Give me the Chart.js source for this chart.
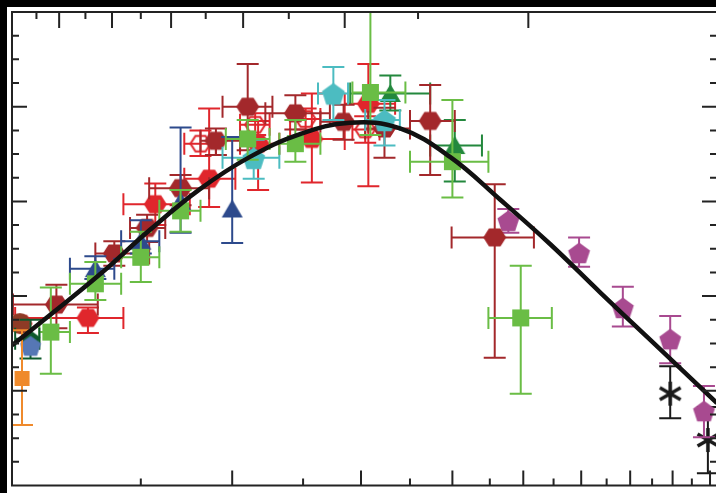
<!DOCTYPE html>
<html>
<head>
<meta charset="utf-8">
<script src="https://cdn.jsdelivr.net/npm/chart.js@4.4.1/dist/chart.umd.min.js"></script>
<style>
html, body { margin:0; padding:0; background:#fff; overflow:hidden; }
#wrap { position:relative; width:716px; height:493px; overflow:hidden; }
#chart { position:absolute; left:0; top:0; width:720px; height:493px; }
.bar { position:absolute; background:#000; }
</style>
</head>
<body>
<div id="wrap">
  <canvas id="chart" width="720" height="493"></canvas>
  <div class="bar" style="left:0;top:0;width:716px;height:7px"></div>
  <div class="bar" style="left:0;top:0;width:7px;height:493px"></div>
</div>
<script>
const d = document;

// fitted curve
const curveX = [1.0, 1.127, 1.319, 1.544, 1.807, 2.115, 2.476, 2.898, 3.392, 3.970, 4.647, 5.439, 6.367, 7.451, 9.2];
const curveY = [1.48, 1.80, 2.23, 2.70, 3.13, 3.47, 3.71, 3.83, 3.77, 3.47, 3.02, 2.55, 2.04, 1.54, 0.87];

// points: [x, y, xLow, xHigh, yLow, yHigh]
const redHex = [
  [1.27, 1.77, 1.01, 1.42, 1.61, 1.88],
  [1.57, 2.97, 1.42, 1.75, 2.75, 3.19],
  [1.86, 3.24, 1.72, 2.02, 2.94, 3.98],
  [2.17, 3.61, 2.05, 2.32, 3.12, 3.85],
  [2.57, 3.66, 2.40, 2.85, 3.20, 4.14],
  [3.07, 4.03, 2.85, 3.34, 3.16, 4.45]
];
const redOpen = [
  [1.03, 1.71, null, null, null, null],
  [1.81, 3.61, 1.72, 1.90, 3.48, 3.75],
  [2.15, 3.81, 2.05, 2.25, 3.70, 3.93],
  [2.52, 3.87, 2.40, 2.64, 3.76, 3.98],
  [3.04, 3.76, 2.92, 3.18, 3.62, 3.90]
];
const darkRedHex = [
  [1.15, 1.91, 1.003, 1.31, 1.66, 2.12],
  [1.38, 2.45, 1.30, 1.54, 2.32, 2.58],
  [1.53, 2.72, 1.45, 1.62, 2.57, 2.86],
  [1.70, 3.14, 1.54, 1.86, 2.96, 3.28],
  [1.90, 3.64, 1.81, 2.05, 3.49, 3.77],
  [2.10, 4.00, 1.94, 2.27, 3.54, 4.45],
  [2.44, 3.93, 2.22, 2.72, 3.76, 4.12],
  [2.84, 3.84, 2.64, 3.07, 3.65, 4.02],
  [3.23, 3.77, 3.04, 3.50, 3.46, 3.99],
  [3.73, 3.85, 3.50, 4.03, 3.28, 4.23],
  [4.57, 2.62, 3.99, 5.17, 1.35, 3.18]
];
const brownCircle = [[1.025, 1.71, null, null, null, null]];
const greenSq = [
  [1.13, 1.62, 1.09, 1.20, 1.18, 2.09],
  [1.30, 2.13, 1.20, 1.41, 1.96, 2.36],
  [1.50, 2.41, 1.41, 1.59, 2.15, 2.68],
  [1.70, 2.90, 1.59, 1.81, 2.68, 3.12],
  [2.10, 3.66, 1.96, 2.25, 3.44, 3.86],
  [2.44, 3.61, 2.32, 2.64, 3.42, 3.86],
  [3.09, 4.15, 2.92, 3.45, 3.70, 5.30],
  [4.00, 3.42, 3.50, 4.48, 3.04, 4.07],
  [4.96, 1.77, 4.48, 5.47, 0.97, 2.32]
];
const darkGreenTri = [
  [3.29, 4.14, 2.90, 3.73, 3.96, 4.33],
  [4.03, 3.59, 3.73, 4.39, 3.21, 3.86]
];
const darkGreenPent = [[1.06, 1.55, 1.01, 1.09, 1.34, 1.75]];
const navyTri = [
  [1.30, 2.29, 1.20, 1.38, 2.18, 2.42],
  [1.50, 2.58, 1.41, 1.59, 2.45, 2.80],
  [1.70, 3.00, null, null, 2.67, 3.78],
  [2.00, 2.92, null, null, 2.56, 3.68]
];
const bluePent = [[1.06, 1.48, null, null, null, null]];
const cyanPent = [
  [2.14, 3.46, 1.94, 2.32, 3.24, 3.65],
  [2.75, 4.14, 2.62, 2.88, 3.86, 4.42],
  [3.23, 3.86, 3.04, 3.39, 3.59, 4.07]
];
const purplePent = [
  [4.77, 2.80, null, null, 2.67, 2.92],
  [5.96, 2.46, null, null, 2.31, 2.62],
  [6.84, 1.88, null, null, 1.68, 2.10],
  [7.94, 1.55, null, null, 1.29, 1.79],
  [8.83, 0.79, null, null, 0.51, 1.05]
];
const blackStar = [
  [7.94, 0.97, null, null, 0.71, 1.26],
  [8.94, 0.48, null, null, 0.13, 0.83]
];
const orangeSq = [[1.032, 1.13, null, null, 0.64, 1.64]];

// axis ticks (no labels in the figure)
const bottomTicks = [1.5, 2, 2.5, 3, 3.5, 4, 4.5, 5, 5.5, 6, 6.5, 7, 7.5, 8, 8.5, 9];
const topTicks = [1.08, 1.16, 1.26, 1.37, 1.50, 1.65, 1.84, 2.07, 2.39, 2.85, 3.59, 5.08];

function marker(shape, color, size, open) {
  const c = d.createElement('canvas');
  c.width = c.height = size + 6;
  const g = c.getContext('2d');
  const m = c.width / 2, r = size / 2;
  g.fillStyle = color;
  g.strokeStyle = color;
  g.lineWidth = 2;
  g.beginPath();
  if (shape === 'hex') {
    for (let i = 0; i < 6; i++) {
      const a = i * Math.PI / 3;
      g.lineTo(m + r * Math.cos(a), m + r * 0.9 * Math.sin(a));
    }
  } else if (shape === 'pent') {
    for (let i = 0; i < 5; i++) {
      const a = -Math.PI / 2 + i * 2 * Math.PI / 5;
      g.lineTo(m + r * Math.cos(a), m + 1.5 + r * Math.sin(a));
    }
  } else if (shape === 'tri') {
    g.moveTo(m, m - r * 0.9);
    g.lineTo(m + r, m + r * 0.8);
    g.lineTo(m - r, m + r * 0.8);
  } else if (shape === 'sq') {
    g.rect(m - r, m - r, size, size);
  } else if (shape === 'circle') {
    g.arc(m, m, r, 0, 2 * Math.PI);
  } else if (shape === 'star') {
    for (let i = 0; i < 3; i++) {
      const a = Math.PI / 2 + i * Math.PI / 3;
      g.moveTo(m + r * Math.cos(a), m + r * Math.sin(a));
      g.lineTo(m - r * Math.cos(a), m - r * Math.sin(a));
    }
    g.lineWidth = 3.5;
    g.stroke();
    return c;
  }
  g.closePath();
  open ? g.stroke() : g.fill();
  return c;
}

function series(rows, color, style) {
  return {
    data: rows.map(r => ({x: r[0], y: r[1], xLo: r[2], xHi: r[3], yLo: r[4], yHi: r[5]})),
    pointStyle: style,
    pointRadius: 10,
    pointHoverRadius: 10,
    errColor: color,
    order: 1
  };
}

const errorBars = {
  id: 'errorBars',
  beforeDatasetDraw(chart, args) {
    const ds = chart.data.datasets[args.index];
    if (!ds.errColor) return;
    const {ctx, chartArea: a, scales: {x, y}} = chart;
    const cap = 11;
    ctx.save();
    ctx.beginPath();
    ctx.rect(a.left, a.top, a.right - a.left, a.bottom - a.top);
    ctx.clip();
    ctx.strokeStyle = ds.errColor;
    ctx.lineWidth = 2;
    ds.data.forEach(p => {
      const px = x.getPixelForValue(p.x), py = y.getPixelForValue(p.y);
      ctx.beginPath();
      if (p.yLo != null) {
        const y0 = y.getPixelForValue(p.yLo), y1 = y.getPixelForValue(p.yHi);
        ctx.moveTo(px, y0); ctx.lineTo(px, y1);
        ctx.moveTo(px - cap, y0); ctx.lineTo(px + cap, y0);
        ctx.moveTo(px - cap, y1); ctx.lineTo(px + cap, y1);
      }
      if (p.xLo != null) {
        const x0 = x.getPixelForValue(p.xLo), x1 = x.getPixelForValue(p.xHi);
        ctx.moveTo(x0, py); ctx.lineTo(x1, py);
        ctx.moveTo(x0, py - cap); ctx.lineTo(x0, py + cap);
        ctx.moveTo(x1, py - cap); ctx.lineTo(x1, py + cap);
      }
      ctx.stroke();
    });
    ctx.restore();
  }
};

const frame = {
  id: 'frame',
  afterDraw(chart) {
    const {ctx, chartArea: a, scales: {x, y}} = chart;
    ctx.save();
    ctx.strokeStyle = '#232323';
    ctx.lineWidth = 2;
    ctx.strokeRect(a.left, a.top, a.right - a.left, a.bottom - a.top);
    ctx.beginPath();
    for (let v = 0.25; v < 5; v += 0.25) {
      const len = v % 1 === 0 ? 15 : 7;
      const py = y.getPixelForValue(v);
      ctx.moveTo(a.left, py); ctx.lineTo(a.left + len, py);
      ctx.moveTo(a.right, py); ctx.lineTo(a.right - len, py);
    }
    bottomTicks.forEach(v => {
      const len = Number.isInteger(v) ? 15 : 7;
      const px = x.getPixelForValue(v);
      ctx.moveTo(px, a.bottom); ctx.lineTo(px, a.bottom - len);
    });
    topTicks.forEach((v, i) => {
      const len = i % 2 ? 16 : 7;
      const px = x.getPixelForValue(v);
      ctx.moveTo(px, a.top); ctx.lineTo(px, a.top + len);
    });
    ctx.stroke();
    ctx.restore();
  }
};

const red = '#e0262c', darkRed = '#a3282b', green = '#6abd45', dGreen = '#23883d',
  navy = '#2d4a8c', cyan = '#4cbcc1', purple = '#a84a90', orange = '#ef8a2c';

const $chart = d.getElementById('chart').getContext('2d');

new Chart($chart, {
  type: 'scatter',
  data: {
    datasets: [
      {
        type: 'line',
        data: curveX.map((v, i) => ({x: v, y: curveY[i]})),
        borderColor: '#111',
        borderWidth: 4.5,
        pointRadius: 0,
        tension: 0.4,
        fill: false,
        order: 0
      },
      series(orangeSq, orange, marker('sq', orange, 15)),
      series(bluePent, '#5677b5', marker('pent', '#5677b5', 22)),
      series(darkGreenPent, '#0e5a2c', marker('pent', '#0e5a2c', 20)),
      series(brownCircle, '#8e3b26', marker('circle', '#8e3b26', 21)),
      series(greenSq, green, marker('sq', green, 17)),
      series(navyTri, navy, marker('tri', navy, 21)),
      series(cyanPent, cyan, marker('pent', cyan, 24)),
      series(darkRedHex, darkRed, marker('hex', darkRed, 23)),
      series(darkGreenTri, dGreen, marker('tri', dGreen, 21)),
      series(redOpen, red, marker('hex', red, 20, true)),
      series(redHex, red, marker('hex', red, 23)),
      series(purplePent, purple, marker('pent', purple, 23)),
      series(blackStar, '#1a1a1a', marker('star', '#1a1a1a', 24))
    ]
  },
  options: {
    responsive: false,
    animation: false,
    devicePixelRatio: 1,
    layout: { autoPadding: false, padding: { left: 12, top: 12, right: 3, bottom: 7.5 } },
    scales: {
      x: { type: 'logarithmic', min: 1, max: 9.2, display: false },
      y: { type: 'linear', min: 0, max: 5, display: false }
    },
    plugins: { legend: { display: false }, tooltip: { enabled: false } }
  },
  plugins: [errorBars, frame]
});
</script>
</body>
</html>
